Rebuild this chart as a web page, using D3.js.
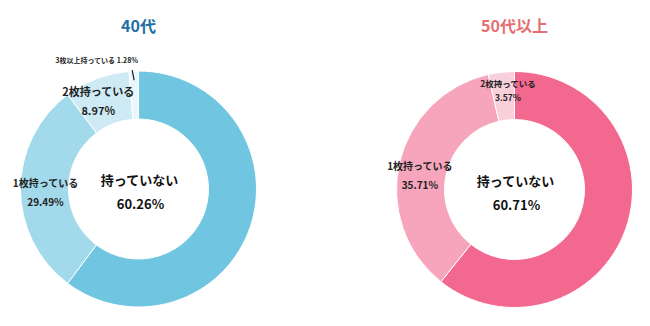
<!DOCTYPE html>
<html>
<head>
<meta charset="utf-8">
<script src="https://cdn.jsdelivr.net/npm/d3@7"></script>
<style>
  body { margin: 0; background: #fff; }
  svg text { font-family: "Noto Sans CJK JP", "Noto Sans", sans-serif; font-weight: bold; }
</style>
</head>
<body>
<div class="viewport"></div>
<script>
// data
var titles = ["40代", "50代以上"];
var labels40 = ["持っていない", "1枚持っている", "2枚持っている", "3枚以上持っている"];
var values40 = [60.26, 29.49, 8.97, 1.28];
var labels50 = ["持っていない", "1枚持っている", "2枚持っている"];
var values50 = [60.71, 35.71, 3.57];

var width = 650, height = 326;
var svg = d3.select('.viewport').append('svg')
  .attr('width', width)
  .attr('height', height);

var outerR = 118, innerR = 70;
var arc = d3.arc().innerRadius(innerR).outerRadius(outerR);
var pie = d3.pie().sort(null).value(d => d.v);

function drawDonut(cx, cy, title, titleColor, labels, values, colors, opts) {
  var g = svg.append('g').attr('transform', 'translate(' + cx + ',' + cy + ')');
  var data = labels.map((l, i) => ({ l: l, v: values[i] }));
  var arcs = pie(data);

  g.selectAll('path.slice')
    .data(arcs)
    .enter().append('path')
    .attr('class', 'slice')
    .attr('d', arc)
    .attr('fill', (d, i) => colors[i])
    .attr('stroke', '#fff')
    .attr('stroke-width', 1);

  svg.append('text')
    .attr('x', cx)
    .attr('y', 32)
    .attr('text-anchor', 'middle')
    .attr('fill', titleColor)
    .attr('font-size', 16)
    .text(title);

  arcs.forEach((d, i) => {
    var pct = d.data.v.toFixed(2) + '%';
    if (i === 0) {
      // biggest slice labelled in the hole
      g.append('text').attr('x', 1).attr('y', -4).attr('text-anchor', 'middle')
        .attr('font-size', 13).attr('fill', '#111').text(d.data.l);
      g.append('text').attr('x', 2).attr('y', 20).attr('text-anchor', 'middle')
        .attr('font-size', 13).attr('fill', '#111').text(pct);
      return;
    }
    var o = opts[i];
    if (o.outside) {
      var a = (d.startAngle + d.endAngle) / 2;
      var p1 = [Math.sin(a) * (outerR + 1), -Math.cos(a) * (outerR + 1)];
      var p2 = [Math.sin(a) * (outerR - 9), -Math.cos(a) * (outerR - 9)];
      g.append('line')
        .attr('x1', p1[0] - 1.5).attr('y1', p1[1])
        .attr('x2', p2[0]).attr('y2', p2[1])
        .attr('stroke', '#222').attr('stroke-width', 1.2);
      g.append('text')
        .attr('x', p1[0] - 37).attr('y', p1[1] - 7)
        .attr('text-anchor', 'middle')
        .attr('font-size', 7).attr('fill', '#222')
        .text(d.data.l + ' ' + pct);
      return;
    }
    var c = arc.centroid(d);
    g.append('text')
      .attr('x', c[0] + o.dx).attr('y', c[1] + o.dy - o.gap / 2)
      .attr('text-anchor', 'middle')
      .attr('font-size', o.size).attr('fill', '#222')
      .text(d.data.l);
    g.append('text')
      .attr('x', c[0] + o.dx).attr('y', c[1] + o.dy + o.gap / 2 + o.size * 0.4)
      .attr('text-anchor', 'middle')
      .attr('font-size', o.size).attr('fill', '#222')
      .text(pct);
  });
}

drawDonut(138.5, 189, titles[0], '#1e6fa6', labels40, values40,
  ['#70c6e1', '#a2d9eb', '#cdeaf5', '#e9f6fb'],
  [null,
   { dx: 1, dy: 6, gap: 15, size: 10 },
   { dx: -7, dy: 2, gap: 15, size: 11 },
   { outside: true }]);

drawDonut(514.5, 189.5, titles[1], '#e56f73', labels50, values50,
  ['#f3688f', '#f6a5bc', '#f9cfdc'],
  [null,
   { dx: -3, dy: 9, gap: 15, size: 10 },
   { dx: 4, dy: -4, gap: 10, size: 8.5 }]);
</script>
</body>
</html>
